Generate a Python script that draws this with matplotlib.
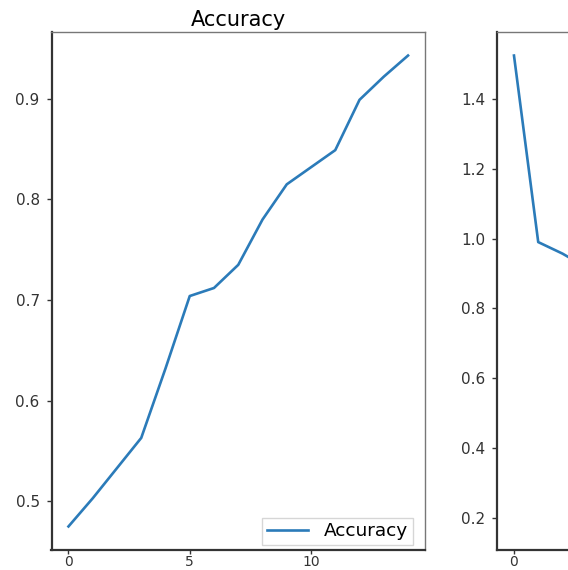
import matplotlib
matplotlib.use("Agg")
import matplotlib.pyplot as plt

epochs = list(range(15))
accuracy = [0.475, 0.503, 0.533, 0.563, 0.632, 0.704, 0.712, 0.735, 0.780,
            0.815, 0.832, 0.849, 0.899, 0.922, 0.943]
loss = [1.524, 0.990, 0.957, 0.917, 0.850, 0.780, 0.710, 0.640, 0.570,
        0.500, 0.440, 0.380, 0.310, 0.240, 0.176]
acc_xticks = [0, 5, 10]
loss_xticks = [0]
acc_yticks = [0.5, 0.6, 0.7, 0.8, 0.9]
loss_yticks = [0.2, 0.4, 0.6, 0.8, 1.0, 1.2, 1.4]

W, H = 568, 570
fig = plt.figure(figsize=(W / 100, H / 100), dpi=100)

def frac(l, r, t, b):
    return [l / W, (H - b) / H, (r - l) / W, (b - t) / H]

ax1 = fig.add_axes(frac(51.5, 425, 32, 550))
ax2 = fig.add_axes(frac(497, 870.5, 32, 550))

color = "#2b7bb9"
ax1.plot(epochs, accuracy, color=color, lw=1.9, label="Accuracy")
ax2.plot(epochs, loss, color=color, lw=1.9, label="Loss")
ax1.set_title("Accuracy", fontsize=15, pad=4)
ax1.legend(loc="lower right", bbox_to_anchor=(1 - 12 / 373.5, 5 / 518),
           borderaxespad=0, fontsize=13.3, borderpad=0.25, handlelength=2.2,
           handletextpad=0.9, edgecolor="#cccccc", fancybox=False)

for ax in (ax1, ax2):
    ax.tick_params(axis="y", labelsize=11, colors="#333333", length=3.5,
                   width=1, pad=5)
    ax.tick_params(axis="x", labelsize=10, colors="#333333", length=3,
                   width=1, pad=0.5)
    for s in ("left", "bottom"):
        ax.spines[s].set_color("#333333")
        ax.spines[s].set_linewidth(1.6)
    for s in ("top", "right"):
        ax.spines[s].set_color("#777777")
        ax.spines[s].set_linewidth(1.0)

ax1.set_xticks(acc_xticks)
ax2.set_xticks(loss_xticks)
ax1.set_yticks(acc_yticks)
ax2.set_yticks(loss_yticks)

fig.savefig("out.png", dpi=100)
